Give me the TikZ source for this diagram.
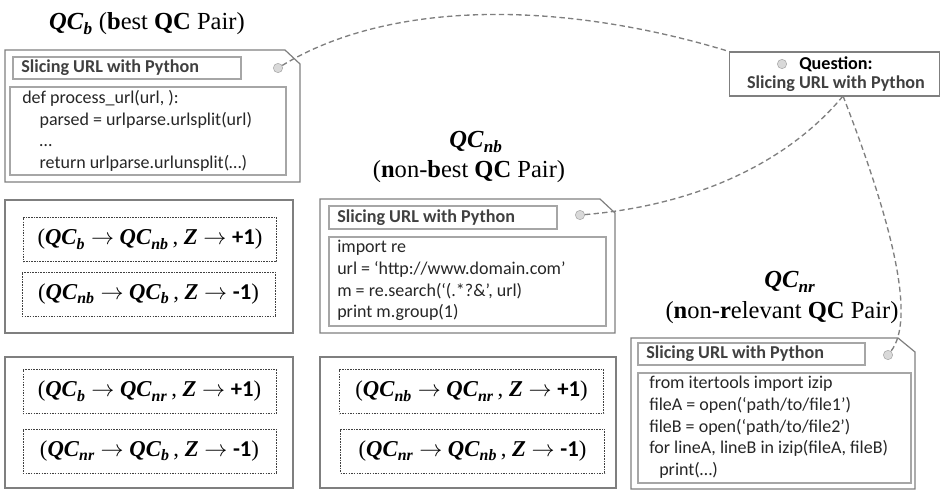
\documentclass[tikz,border=0pt]{standalone}
\usepackage{amsmath}
\usepackage{fontspec}
\setmainfont{Liberation Serif}
\setsansfont{Carlito}
\usetikzlibrary{arrows.meta}
\definecolor{boxgray}{HTML}{7F7F7F}
\definecolor{ingray}{HTML}{A6A6A6}
\definecolor{txtgray}{HTML}{404040}
\definecolor{codeblk}{HTML}{262626}
\newcommand{\qc}[1]{$\textbf{\textit{QC}}_{\textbf{\textit{#1}}}$}
\newcommand{\pair}[3]{(\qc{#1} $\rightarrow$ \qc{#2}\,, $\textbf{\textit{Z}}$ $\rightarrow$ {\sffamily\bfseries #3})}
\newcommand{\slc}{Slicing URL with Python}

\begin{document}
\begin{tikzpicture}[x=0.75pt,y=-0.75pt,
  note/.style={draw=boxgray,line width=0.9pt},
  inbox/.style={draw=ingray,line width=0.8pt},
  ttltxt/.style={font=\sffamily\bfseries\fontsize{13.6}{15}\selectfont,text=txtgray,anchor=west,inner sep=0pt},
  codetxt/.style={font=\sffamily\fontsize{13.5}{16.3}\selectfont,text=codeblk,anchor=north west,align=left,inner sep=0pt},
  dot/.style={circle,draw=ingray,fill=gray!30,minimum size=7pt,inner sep=0pt},
  link/.style={draw=boxgray,dash pattern=on 4pt off 2.5pt,line width=1pt},
  head/.style={font=\fontsize{18.4}{21}\selectfont},
  pairbox/.style={draw=black!75,dash pattern=on 1.2pt off 0.8pt,line width=0.5pt,
    minimum width=190pt,minimum height=33pt,font=\fontsize{17}{19}\selectfont}]
\useasboundingbox (0,0) rectangle (941,493);
%question
\node[draw=boxgray,line width=0.9pt,minimum width=157.5pt,minimum height=33pt,inner sep=0pt] (q) at (834.5,74) {};
\node[dot] (dq) at (782,64) {};
\node[ttltxt,anchor=center,text=black] (qlbl) at (836,64) {Question:};
\node[ttltxt,anchor=center] (qtxt) at (836,84) {\slc};
\coordinate (qs) at (843,96);
%best pair
\node[head] (hb) at (147,24) {\qc{b} ({\bfseries b}est {\bfseries QC} Pair)};
\draw[note] (5,50) -- (285,50) -- (300,64) -- (300,182) -- (5,182) -- cycle;
\draw[inbox] (13,57) rectangle (241,79);
\draw[inbox] (10,87) rectangle (286,175);
\node[ttltxt] (tb) at (21,68) {\slc};
\node[dot] (db) at (278,68) {};
\node[codetxt] (cb) at (22,90) {def process\_url(url, ):\\
\hspace*{13pt}parsed = urlparse.urlsplit(url)\\
\hspace*{13pt}\ldots\\
\hspace*{13pt}return urlparse.urlunsplit(\ldots)};
%non-best pair
\node[head] (hnb) at (476,142) {\qc{nb}};
\node[head] (hnbp) at (469,172) {({\bfseries n}on-{\bfseries b}est {\bfseries QC} Pair)};
\draw[note] (320,199) -- (600,199) -- (615,213) -- (615,333) -- (320,333) -- cycle;
\draw[inbox] (329,206) rectangle (557,229);
\draw[inbox] (329,237) rectangle (606,326);
\node[ttltxt] (tnb) at (337,217.5) {\slc};
\node[dot] (dnb) at (580,215) {};
\node[codetxt] (cnb) at (337,240) {import re\\
url = `http://www.domain.com'\\
m = re.search(`(.*?\&', url)\\
print m.group(1)};
%non-relevant pair
\node[head] (hnr) at (790,282) {\qc{nr}};
\node[head] (hnrp) at (782,313) {({\bfseries n}on-{\bfseries r}elevant {\bfseries QC} Pair)};
\draw[note] (631,338) -- (898,338) -- (915,352) -- (915,489) -- (631,489) -- cycle;
\draw[inbox] (638,343) rectangle (865,365);
\draw[inbox] (638,373) rectangle (911,483);
\node[ttltxt] (tnr) at (646,354) {\slc};
\node[dot] (dnr) at (888,355) {};
\node[codetxt] (cnr) at (649,376) {from itertools import izip\\
fileA = open(`path/to/file1')\\
fileB = open(`path/to/file2')\\
for lineA, lineB in izip(fileA, fileB)\\
\hspace*{7.5pt}print(\ldots)};
%links
\draw[link] (db) .. controls (390,0) and (560,0) .. (q.north west);
\draw[link] (dnb) .. controls (700,205) and (790,160) .. (qs);
\draw[link] (qs) .. controls (895,230) and (915,320) .. (dnr);
%pairs
\draw[note] (5,200) rectangle (293,333);
\node[pairbox] (p1) at (150,239.5) {\pair{b}{nb}{+1}};
\node[pairbox] (p2) at (148.5,294) {\pair{nb}{b}{-1}};
\draw[note] (5,357) rectangle (293,488);
\node[pairbox] (p3) at (149.5,391.5) {\pair{b}{nr}{+1}};
\node[pairbox] (p4) at (149.5,451) {\pair{nr}{b}{-1}};
\draw[note] (320,357) rectangle (616,488);
\node[pairbox,minimum width=198pt] (p5) at (471.5,391.5) {\pair{nb}{nr}{+1}};
\node[pairbox,minimum width=198pt] (p6) at (472.5,451) {\pair{nr}{nb}{-1}};
\end{tikzpicture}
\end{document}
